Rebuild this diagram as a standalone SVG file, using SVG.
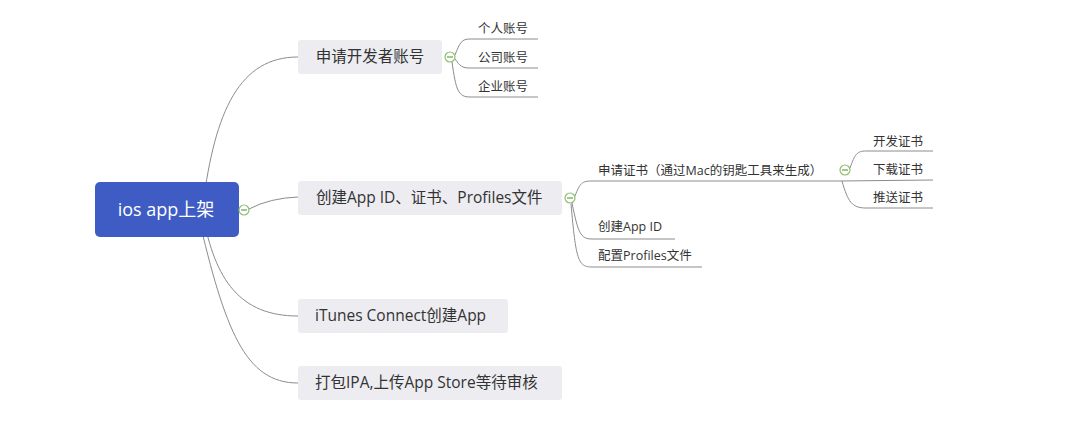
<svg xmlns="http://www.w3.org/2000/svg" width="1080" height="427" viewBox="0 0 1080 427">
<defs>
<style>
.ln{fill:none;stroke:#8c8c8c;stroke-width:1}
.main{fill:#ECECF1;}
.mt{font-family:"Open Sans","Noto Sans CJK SC",sans-serif;font-size:15.5px;fill:#333}
.st{font-family:"Open Sans","Noto Sans CJK SC",sans-serif;font-size:12.5px;fill:#333}
.col{fill:#fff;stroke:#8cc06a;stroke-width:1.2}
.colbar{stroke:#6a9f4a;stroke-width:1.2}
</style>
</defs>
<rect width="1080" height="427" fill="#fff"/>
<g id="connectors">
<path class="ln" d="M203,205 C215,110 240,57 298,57"/>
<path class="ln" d="M249,209 Q270,198 298,197"/>
<path class="ln" d="M203,215 C215,280 240,316 298,316"/>
<path class="ln" d="M198,215 C225,330 245,383 298,383"/>
<path class="ln" d="M455,55 C460,42 462,39 470,39 L538,39"/>
<path class="ln" d="M455,59 C460,66 462,68 470,68 L538,68"/>
<path class="ln" d="M452,62 C456,90 458,97 470,97 L538,97"/>
<path class="ln" d="M575,196 C580,183 582,181 592,181 L840,181"/>
<path class="ln" d="M572,203 C578,232 580,239 592,239 L675,239"/>
<path class="ln" d="M571,204 C576,260 578,267 592,267 L702,267"/>
<path class="ln" d="M850,168 C855,154 857,151 866,151 L933,151"/>
<path class="ln" d="M840,181 L933,180"/>
<path class="ln" d="M842,181 C848,202 852,208 866,208 L933,208"/>
</g>
<g id="root">
<rect x="95" y="182" width="144" height="55" rx="5" fill="#3E5CC4"/>
<text x="166" y="216" text-anchor="middle" font-family="Open Sans,Noto Sans CJK SC,sans-serif" font-size="18" fill="#fff">ios app上架</text>
<circle class="col" cx="244" cy="210" r="5"/><line class="colbar" x1="241" y1="210" x2="247" y2="210"/>
</g>
<g id="n1">
<rect class="main" x="298" y="40" width="144" height="34" rx="3"/>
<text class="mt" x="370" y="62" text-anchor="middle">申请开发者账号</text>
<circle class="col" cx="450" cy="57" r="5"/><line class="colbar" x1="447" y1="57" x2="453" y2="57"/>
</g>
<g id="n1a"><text class="st" x="478" y="33">个人账号</text></g>
<g id="n1b"><text class="st" x="478" y="62">公司账号</text></g>
<g id="n1c"><text class="st" x="478" y="91">企业账号</text></g>
<g id="n2">
<rect class="main" x="298" y="181" width="264" height="34" rx="3"/>
<text class="mt" x="316" y="203">创建App ID、证书、Profiles文件</text>
<circle class="col" cx="570" cy="198" r="5"/><line class="colbar" x1="567" y1="198" x2="573" y2="198"/>
</g>
<g id="n2a">
<text class="st" x="598" y="175">申请证书（通过Mac的钥匙工具来生成）</text>
<circle class="col" cx="845" cy="170" r="5"/><line class="colbar" x1="842" y1="170" x2="848" y2="170"/>
</g>
<g id="n2a1"><text class="st" x="873" y="146">开发证书</text></g>
<g id="n2a2"><text class="st" x="873" y="174">下载证书</text></g>
<g id="n2a3"><text class="st" x="873" y="202">推送证书</text></g>
<g id="n2b"><text class="st" x="598" y="231">创建App ID</text></g>
<g id="n2c"><text class="st" x="598" y="260">配置Profiles文件</text></g>
<g id="n3">
<rect class="main" x="298" y="299" width="210" height="34" rx="3"/>
<text class="mt" x="315" y="321">iTunes Connect创建App</text>
</g>
<g id="n4">
<rect class="main" x="298" y="366" width="264" height="34" rx="3"/>
<text class="mt" x="315" y="388">打包IPA,上传App Store等待审核</text>
</g>
</svg>
